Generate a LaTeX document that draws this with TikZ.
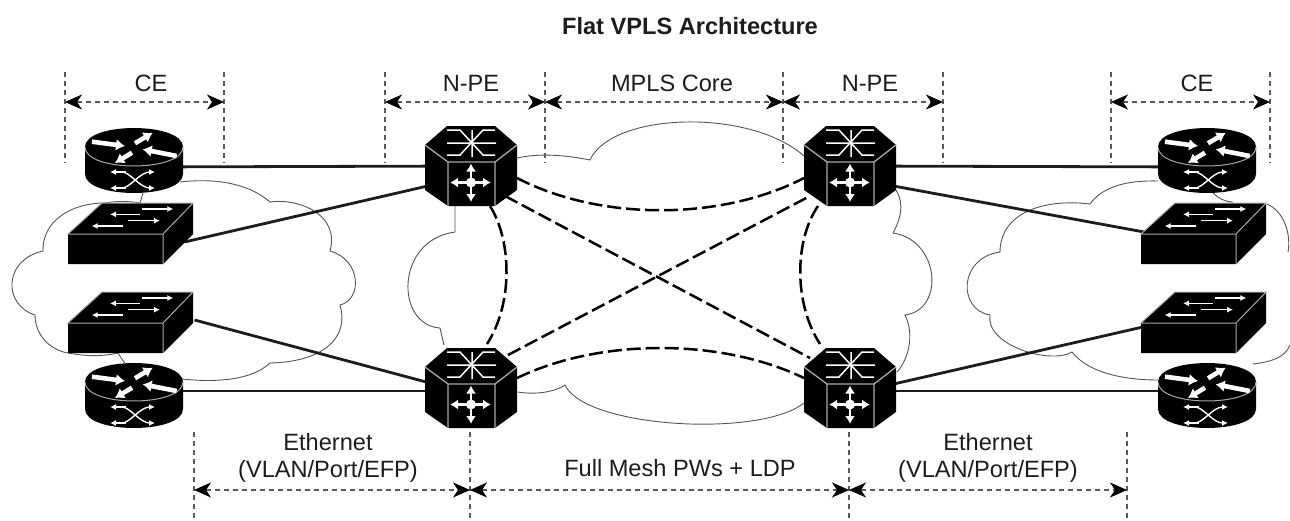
\documentclass[tikz,border=0pt]{standalone}
\usepackage{fontspec}
\setmainfont{Liberation Sans}
\usetikzlibrary{arrows.meta,calc}
\definecolor{ink}{HTML}{1C1C1C}
\definecolor{dimgray}{HTML}{5A5A5A}
\definecolor{edgegray}{HTML}{A8A8A8}
\definecolor{cloudgray}{HTML}{555555}
\tikzset{
  devbox/.style={inner sep=0pt,outer sep=0pt,minimum width=#1},
  cloudline/.style={draw=cloudgray,line width=0.9pt},
  link/.style={draw=ink,line width=2.8pt},
  pw/.style={draw=black,line width=2.5pt,dash pattern=on 14pt off 5pt},
  guide/.style={draw=dimgray,line width=1.4pt,dash pattern=on 5pt off 4pt},
  span/.style={draw=dimgray,line width=1.4pt,dash pattern=on 5pt off 4pt,{Stealth[length=17pt,width=15pt,inset=5pt,black]}-{Stealth[length=17pt,width=15pt,inset=5pt,black]}},
  lab/.style={font=\fontsize{23.6}{27}\selectfont,text=ink,inner sep=0pt,align=center},
  fat/.style={draw=white,line width=4.6pt,-{Latex[length=9pt,width=12pt]}},
  thinar/.style={draw=white,line width=1.4pt,-{Latex[length=6pt,width=6pt]}},
  fourway/.style={draw=white,line width=2.6pt,-{Latex[length=8pt,width=10pt]}},
  pics/pe/.style={code={
    \fill[black] (22,0)--(70,0)--(92,19)--(92,64)--(70,80)--(23,80)--(0,64)--(0,19)--cycle;
    \draw[edgegray,line width=1.3pt] (0,19)--(23,36)--(70,36)--(92,19) (23,36)--(23,80) (70,36)--(70,80);
    \draw[white,line width=1.5pt] (22,4)--(35,4)--(58,29)--(70,29) (70,4)--(58,4)--(35,29)--(22,29) (22,17)--(71,17) (47,4)--(47,31);
    \draw[fourway] (46,56.5)--(46,37.5);
    \draw[fourway] (46,56.5)--(46,76);
    \draw[fourway] (46,56.5)--(25,56.5);
    \draw[fourway] (46,56.5)--(66,56.5);
    \fill[white] (46,56.5) circle (5);
  }},
  pics/rtr/.style={code={
    \fill[black] (-49,0) .. controls (-49,-25.3) and (49,-25.3) .. (49,0) -- (49,27)
      .. controls (49,52.3) and (-49,52.3) .. (-49,27) -- cycle;
    \draw[edgegray,line width=1pt] (-49,0) .. controls (-49,25.3) and (49,25.3) .. (49,0);
    \draw[fat] (-42,-5.3)--(-9,-1);
    \draw[fat] (1,-3.7)--(18.7,-14.3);
    \draw[fat] (-2,5.7)--(-19,16);
    \draw[fat] (42.7,9)--(8.7,2.3);
    \draw[thinar] (-12,25) .. controls (-4,25) and (6,41) .. (21,41);
    \draw[thinar] (-12,41) .. controls (-4,41) and (6,25) .. (21,25);
    \draw[thinar] (-8,25)--(-24,25);
    \draw[thinar] (-8,41)--(-24,41);
  }},
  pics/swc/.style={code={
    \fill[black] (0,0)--(34,-31)--(125,-31)--(125,0)--(95,30)--(0,30)--cycle;
    \draw[edgegray,line width=1pt] (0,0)--(34,-31)--(125,-31)--(95,0)--cycle (95,0)--(95,30);
    \draw[thinar] (73.7,-25)--(105.3,-25);
    \draw[thinar] (72,-19.7)--(42,-19.7);
    \draw[thinar] (60.3,-13.3)--(92,-13.3);
    \draw[thinar] (55.3,-8)--(23.7,-8);
  }}
}
\begin{document}
\begin{tikzpicture}[x=1pt,y=-1pt]
\useasboundingbox (0,0) rectangle (1290,520);

% device anchors
\node[devbox=98pt,minimum height=40pt] (rTL) at (134,167) {};
\node[devbox=98pt,minimum height=40pt] (rBL) at (134,391) {};
\node[devbox=98pt,minimum height=40pt] (rTR) at (1207,167) {};
\node[devbox=98pt,minimum height=40pt] (rBR) at (1207,391) {};
\node[devbox=125pt,minimum height=40pt] (sTL) at (130.5,242) {};
\node[devbox=125pt,minimum height=40pt] (sBL) at (130.5,320) {};
\node[devbox=125pt,minimum height=40pt] (sTR) at (1204,243) {};
\node[devbox=125pt,minimum height=40pt] (sBR) at (1204,313) {};
\node[devbox=92pt,minimum height=80pt] (pTL) at (471,166) {};
\node[devbox=92pt,minimum height=80pt] (pTR) at (850,166) {};
\node[devbox=92pt,minimum height=80pt] (pBL) at (471,388) {};
\node[devbox=92pt,minimum height=80pt] (pBR) at (850,388) {};

% clouds
\path[cloudline] (180,182) .. controls (215,178) and (248,183) .. (270,202)
  .. controls (300,198) and (340,215) .. (330,251)
  .. controls (362,260) and (362,300) .. (340,305)
  .. controls (350,340) and (320,362) .. (270,363)
  .. controls (250,382) and (210,382) .. (182,379);
\path[cloudline] (125,363) .. controls (122,360) and (120,356) .. (118,353)
  .. controls (100,357) and (85,356) .. (68,353)
  .. controls (50,350) and (35,335) .. (35,315)
  .. controls (3,305) and (3,260) .. (43,251)
  .. controls (42,222) and (70,203) .. (105,203)
  .. controls (115,201) and (130,201) .. (140,203) -- (143,193);
\path[cloudline] (517,158) .. controls (540,153) and (565,155) .. (590,160)
  .. controls (612,112) and (750,108) .. (804,156);
\path[cloudline] (896,190) .. controls (905,205) and (900,220) .. (893,233)
  .. controls (940,240) and (945,310) .. (905,315)
  .. controls (915,335) and (908,360) .. (897,372);
\path[cloudline] (518,392) .. controls (535,395) and (555,392) .. (565,385)
  .. controls (585,428) and (760,438) .. (804,403);
\path[cloudline] (455,206) -- (455,232)
  .. controls (395,240) and (395,325) .. (440,328) -- (444,345);
\path[cloudline] (1158,181) .. controls (1120,180) and (1100,190) .. (1090,204)
  .. controls (1040,198) and (1000,215) .. (1000,252)
  .. controls (958,258) and (958,310) .. (990,315)
  .. controls (985,345) and (1050,365) .. (1072,352)
  .. controls (1090,375) and (1130,380) .. (1158,380);
\path[cloudline] (1213,193) .. controls (1218,198) and (1225,202) .. (1233,202);
\path[cloudline] (1267,204) .. controls (1285,212) and (1291,235) .. (1288,252);
\path[cloudline] (1290,345) .. controls (1285,358) and (1270,362) .. (1253,364);

% guides at top
\coordinate (v1) at (65,72);   \coordinate (w1) at (65,163);
\coordinate (v2) at (224,72);  \coordinate (w2) at (224,163);
\coordinate (v3) at (385,72);  \coordinate (w3) at (385,163);
\coordinate (v4) at (545,72);  \coordinate (w4) at (545,163);
\coordinate (v5) at (783,72);  \coordinate (w5) at (783,163);
\coordinate (v6) at (943,72);  \coordinate (w6) at (943,163);
\coordinate (v7) at (1111,72); \coordinate (w7) at (1111,163);
\coordinate (v8) at (1270,72); \coordinate (w8) at (1270,163);
\coordinate (toprow) at (0,102);
\foreach \i in {1,...,8} \path[guide] (v\i) -- (w\i);
\path[span] (v1 |- toprow) -- (v2 |- toprow);
\path[span] (v3 |- toprow) -- (v4 |- toprow);
\path[span] (v4 |- toprow) -- (v5 |- toprow);
\path[span] (v5 |- toprow) -- (v6 |- toprow);
\path[span] (v7 |- toprow) -- (v8 |- toprow);

% guides at bottom
\coordinate (b1) at (194,432); \coordinate (c1) at (194,520);
\coordinate (b2) at (470,432); \coordinate (c2) at (470,520);
\coordinate (b3) at (849,432); \coordinate (c3) at (849,520);
\coordinate (b4) at (1127,432);\coordinate (c4) at (1127,520);
\coordinate (botrow) at (0,490);
\foreach \i in {1,...,4} \path[guide] (b\i) -- (c\i);
\path[span] (b1 |- botrow) -- (b2 |- botrow);
\path[span] (b2 |- botrow) -- (b3 |- botrow);
\path[span] (b3 |- botrow) -- (b4 |- botrow);

% links
\path[link] (rTL) -- (pTL);
\path[link] (rBL.center |- pBL.center) ++(0,3) -- ([yshift=-3pt]pBL.center);
\path[link] (rTR) -- (pTR);
\path[link] (rBR.center) -- ([yshift=-3pt]pBR.center);
\path[link] (sTL.center) ++(54,0) -- ([yshift=-10pt]pTL.center);
\path[link] (sBL.center) ++(64,0) -- ([yshift=-6pt]pBL.center);
\path[link] ([yshift=-12pt]pTR.center) -- (sTR.center);
\path[link] ([yshift=-6pt]pBR.center) -- (sBR.center);

% pseudowires
\path[pw] ([yshift=-12pt]pTL.east) .. controls +(83,43) and +(-83,43) .. ([yshift=-12pt]pTR.west);
\path[pw] ([yshift=10pt]pBL.east) .. controls +(83,-40) and +(-83,-40) .. ([yshift=10pt]pBR.west);
\path[pw] ([xshift=-12pt,yshift=-30pt]pTL.east) -- ([xshift=6pt,yshift=30pt]pBR.west);
\path[pw] ([xshift=-9pt,yshift=33pt]pBL.east) -- ([xshift=6pt,yshift=-30pt]pTR.west);
\path[pw] ([xshift=19pt]pTL.south) .. controls +(22,35) and +(26,-40) .. ([xshift=16pt,yshift=4pt]pBL.north);
\path[pw] ([xshift=-32pt]pTR.south) .. controls +(-24,35) and +(-26,-40) .. ([xshift=-30pt,yshift=4pt]pBR.north);

% devices
\pic at (134,147) {rtr};
\pic at (134,382) {rtr};
\pic at (1207,147) {rtr};
\pic at (1207,382) {rtr};
\pic at (68,234) {swc};
\pic at (68,323) {swc};
\pic at (1141,234) {swc};
\pic at (1141,323) {swc};
\pic at (425,126) {pe};
\pic at (804,126) {pe};
\pic at (425,348) {pe};
\pic at (804,348) {pe};

% labels
\node[lab,font=\fontsize{23.6}{27}\selectfont\bfseries] (title) at (690,26) {Flat VPLS Architecture};
\node[lab] (l1) at (151,83) {CE};
\node[lab] (l2) at (471,83) {N-PE};
\node[lab] (l3) at (672,83) {MPLS Core};
\node[lab] (l4) at (870,83) {N-PE};
\node[lab] (l5) at (1197,83) {CE};
\node[lab] (l6) at (328,458) {Ethernet\\(VLAN/Port/EFP)};
\node[lab] (l7) at (680,468) {Full Mesh PWs + LDP};
\node[lab] (l8) at (988,458) {Ethernet\\(VLAN/Port/EFP)};
\end{tikzpicture}
\end{document}
